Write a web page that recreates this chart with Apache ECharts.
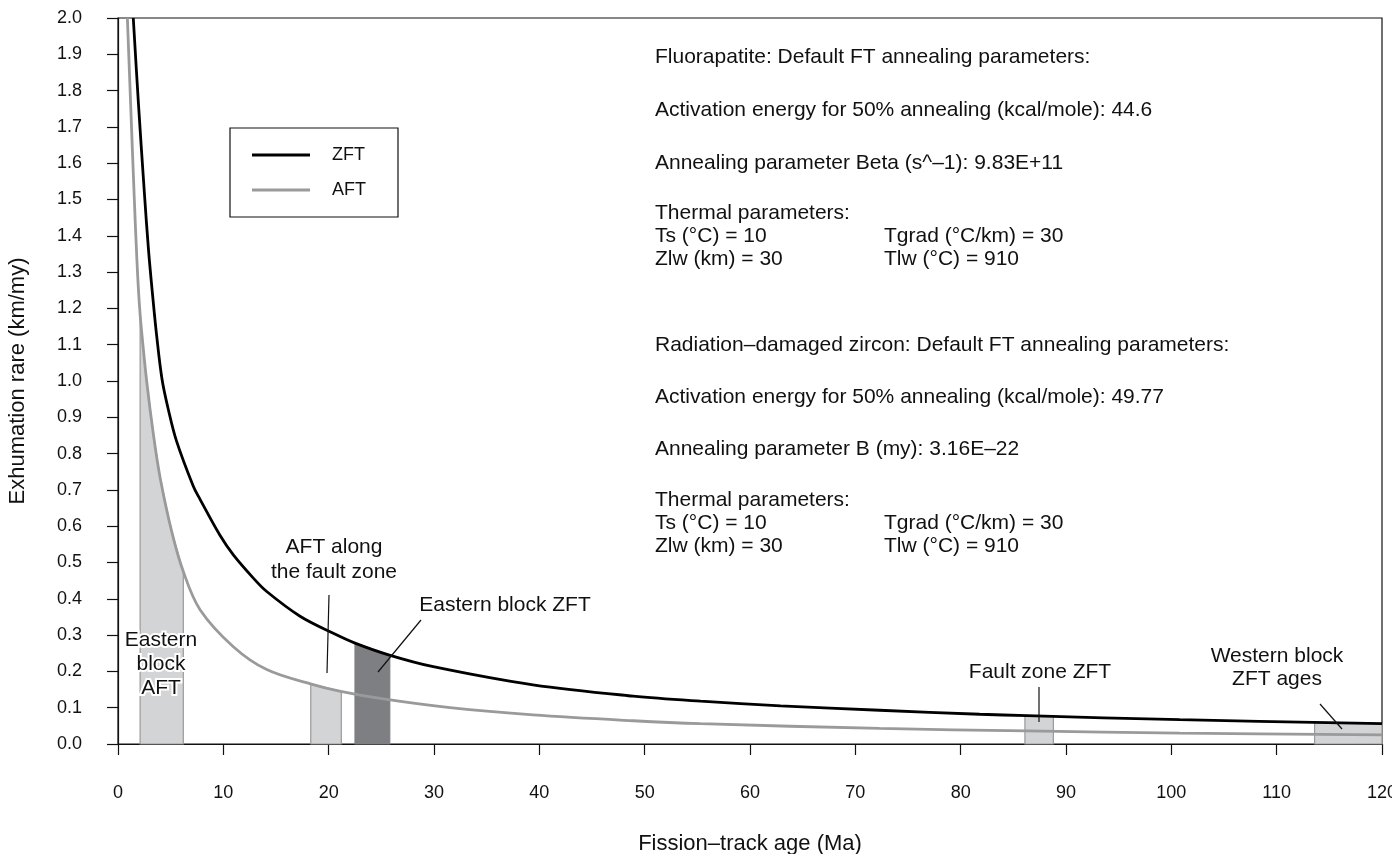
<!DOCTYPE html>
<html>
<head>
<meta charset="utf-8">
<script src="https://cdn.jsdelivr.net/npm/echarts@6/dist/echarts.min.js"></script>
<style>html,body{margin:0;padding:0;background:#fff;}#c{width:1392px;height:854px;}</style>
</head>
<body>
<div id="c"></div>
<script>
// ZFT curve: [age (Ma), exhumation rate (km/my)]
const ZFT = [
  [1.45, 2.0], [1.95, 1.76], [2.5, 1.52], [2.9, 1.36], [3.29, 1.235], [3.67, 1.125],
  [4.18, 1.005], [4.79, 0.92], [5.55, 0.835], [7.15, 0.71], [7.79, 0.674], [9.68, 0.575],
  [10.95, 0.521], [12.85, 0.457], [14.12, 0.42], [17.28, 0.352], [20.44, 0.305], [22.5, 0.278],
  [25.76, 0.245], [29.93, 0.213], [39.4, 0.163], [48.9, 0.132], [55.3, 0.118], [62.9, 0.105],
  [72.3, 0.093], [81.8, 0.082], [86.3, 0.078], [100.8, 0.067], [120, 0.056]
];
// AFT curve
const AFT = [
  [0.89, 2.0], [1.23, 1.74], [1.55, 1.5], [1.80, 1.33], [2.02, 1.215], [2.23, 1.14],
  [2.72, 1.0], [3.35, 0.855], [3.99, 0.735], [5.10, 0.585], [6.2, 0.475], [7.79, 0.37],
  [10.95, 0.268], [14.12, 0.205], [18.35, 0.165], [21.14, 0.145], [25.19, 0.124], [31.52, 0.100],
  [39.4, 0.080], [48.9, 0.064], [55.3, 0.056], [72.3, 0.043], [86.3, 0.036], [100.8, 0.030],
  [120, 0.025]
];
// Age bands (top edge follows the corresponding curve)
const BAND_EAST_AFT = [[2.1, 1.187], [2.23, 1.14], [2.72, 1.0], [3.35, 0.855], [3.99, 0.735], [5.10, 0.585], [6.2, 0.475]];
const BAND_FAULT_AFT = [[18.3, 0.166], [21.2, 0.145]];
const BAND_EAST_ZFT = [[22.5, 0.278], [24.0, 0.262], [25.8, 0.245]];
const BAND_FAULT_ZFT = [[86.1, 0.078], [88.8, 0.076]];
const BAND_WEST_ZFT = [[113.6, 0.060], [120, 0.056]];
const BANDS = [
  {pts: BAND_EAST_AFT, dark: false},
  {pts: BAND_FAULT_AFT, dark: false},
  {pts: BAND_EAST_ZFT, dark: true},
  {pts: BAND_FAULT_ZFT, dark: false},
  {pts: BAND_WEST_ZFT, dark: false}
];
const FONT = '"Liberation Sans", Arial, Helvetica, sans-serif';

const chart = echarts.init(document.getElementById('c'), null, {renderer: 'canvas'});

function txt(x, y, s, opt) {
  return {
    type: 'text', x: x, y: y, z: 100,
    style: Object.assign({text: s, font: '21px ' + FONT, fill: '#111', textVerticalAlign: 'middle'}, opt || {})
  };
}
function seg(x1, y1, x2, y2) {
  return {type: 'line', z: 100, shape: {x1: x1, y1: y1, x2: x2, y2: y2}, style: {stroke: '#111', lineWidth: 1.2}};
}

const BX = 655, BX2 = 884;
const LBL = '21px ' + FONT;
const graphics = [
  txt(BX, 57, 'Fluorapatite: Default FT annealing parameters:'),
  txt(BX, 110, 'Activation energy for 50% annealing (kcal/mole): 44.6'),
  txt(BX, 163, 'Annealing parameter Beta (s^\u20131): 9.83E+11'),
  txt(BX, 213, 'Thermal parameters:'),
  txt(BX, 236, 'Ts (\u00B0C) = 10'),
  txt(BX2, 236, 'Tgrad (\u00B0C/km) = 30'),
  txt(BX, 259, 'Zlw (km) = 30'),
  txt(BX2, 259, 'Tlw (\u00B0C) = 910'),
  txt(BX, 345, 'Radiation\u2013damaged zircon: Default FT annealing parameters:'),
  txt(BX, 397, 'Activation energy for 50% annealing (kcal/mole): 49.77'),
  txt(BX, 449, 'Annealing parameter B (my): 3.16E\u201322'),
  txt(BX, 500, 'Thermal parameters:'),
  txt(BX, 523, 'Ts (\u00B0C) = 10'),
  txt(BX2, 523, 'Tgrad (\u00B0C/km) = 30'),
  txt(BX, 546, 'Zlw (km) = 30'),
  txt(BX2, 546, 'Tlw (\u00B0C) = 910'),
  // in-plot labels
  txt(161, 664, 'Eastern\nblock\nAFT', {font: LBL, textAlign: 'center', lineHeight: 24, stroke: '#fff', lineWidth: 4}),
  txt(334, 560, 'AFT along\nthe fault zone', {font: LBL, textAlign: 'center', lineHeight: 25}),
  seg(329, 595, 327, 673),
  txt(505, 605, 'Eastern block ZFT', {font: LBL, textAlign: 'center'}),
  seg(421, 620, 378, 672),
  txt(1040, 672, 'Fault zone ZFT', {font: LBL, textAlign: 'center'}),
  seg(1039, 687, 1039, 722),
  txt(1277, 668, 'Western block\nZFT ages', {font: LBL, textAlign: 'center', lineHeight: 23}),
  seg(1320, 704, 1342, 729)
];

const option = {
  backgroundColor: '#fff',
  animation: false,
  textStyle: {fontFamily: FONT},
  grid: {left: 118, right: 10, top: 18, bottom: 110, show: true, borderColor: '#111', borderWidth: 1.2,
         containLabel: false, outerBoundsMode: 'none'},
  legend: {
    left: 230, top: 128, orient: 'vertical',
    data: [{name: 'ZFT', icon: 'rect'}, {name: 'AFT', icon: 'rect'}],
    itemWidth: 58, itemHeight: 3, itemGap: 15,
    padding: [17, 32, 17, 22],
    borderColor: '#111', borderWidth: 1.2, backgroundColor: '#fff',
    textStyle: {fontSize: 18, color: '#111', lineHeight: 20, padding: [0, 0, 0, 17], fontFamily: FONT}
  },
  xAxis: {
    type: 'value', min: 0, max: 120, interval: 10,
    name: 'Fission\u2013track age (Ma)', nameLocation: 'middle', nameGap: 89,
    nameTextStyle: {fontSize: 22, color: '#111', fontFamily: FONT},
    axisLine: {lineStyle: {color: '#111', width: 1.2}},
    axisTick: {length: 11, lineStyle: {color: '#111', width: 1.2}},
    axisLabel: {fontSize: 18, color: '#111', margin: 40, fontFamily: FONT},
    splitLine: {show: false}
  },
  yAxis: {
    type: 'value', min: 0, max: 2, interval: 0.1,
    name: 'Exhumation rare (km/my)', nameLocation: 'middle', nameGap: 89, nameRotate: 90,
    nameTextStyle: {fontSize: 22, color: '#111', fontFamily: FONT},
    axisLine: {show: true, lineStyle: {color: '#111', width: 1.2}},
    axisTick: {show: true, length: 11, lineStyle: {color: '#111', width: 1.2}},
    axisLabel: {fontSize: 18, color: '#111', margin: 36, fontFamily: FONT, formatter: v => v.toFixed(1)},
    splitLine: {show: false}
  },
  series: [
    {
      name: 'bands', type: 'custom', z: 1,
      data: BANDS.map((b, i) => [i]),
      renderItem: function (params, api) {
        const b = BANDS[api.value(0)];
        const pts = b.pts.map(p => api.coord(p));
        pts.push(api.coord([b.pts[b.pts.length - 1][0], 0]));
        pts.push(api.coord([b.pts[0][0], 0]));
        return {
          type: 'polygon', shape: {points: pts},
          style: {fill: b.dark ? '#7e7f83' : '#d3d4d6', stroke: b.dark ? '#7e7f83' : '#9a9a9a', lineWidth: 1.2}
        };
      },
      silent: true
    },
    {
      name: 'ZFT', type: 'line', data: ZFT, symbol: 'none', smooth: 0.35, z: 5,
      lineStyle: {color: '#000', width: 2.8}, itemStyle: {color: '#000'}
    },
    {
      name: 'AFT', type: 'line', data: AFT, symbol: 'none', smooth: 0.35, z: 4,
      lineStyle: {color: '#9a9a9a', width: 2.8}, itemStyle: {color: '#9a9a9a'}
    }
  ],
  graphic: graphics
};
chart.setOption(option);
</script>
</body>
</html>
